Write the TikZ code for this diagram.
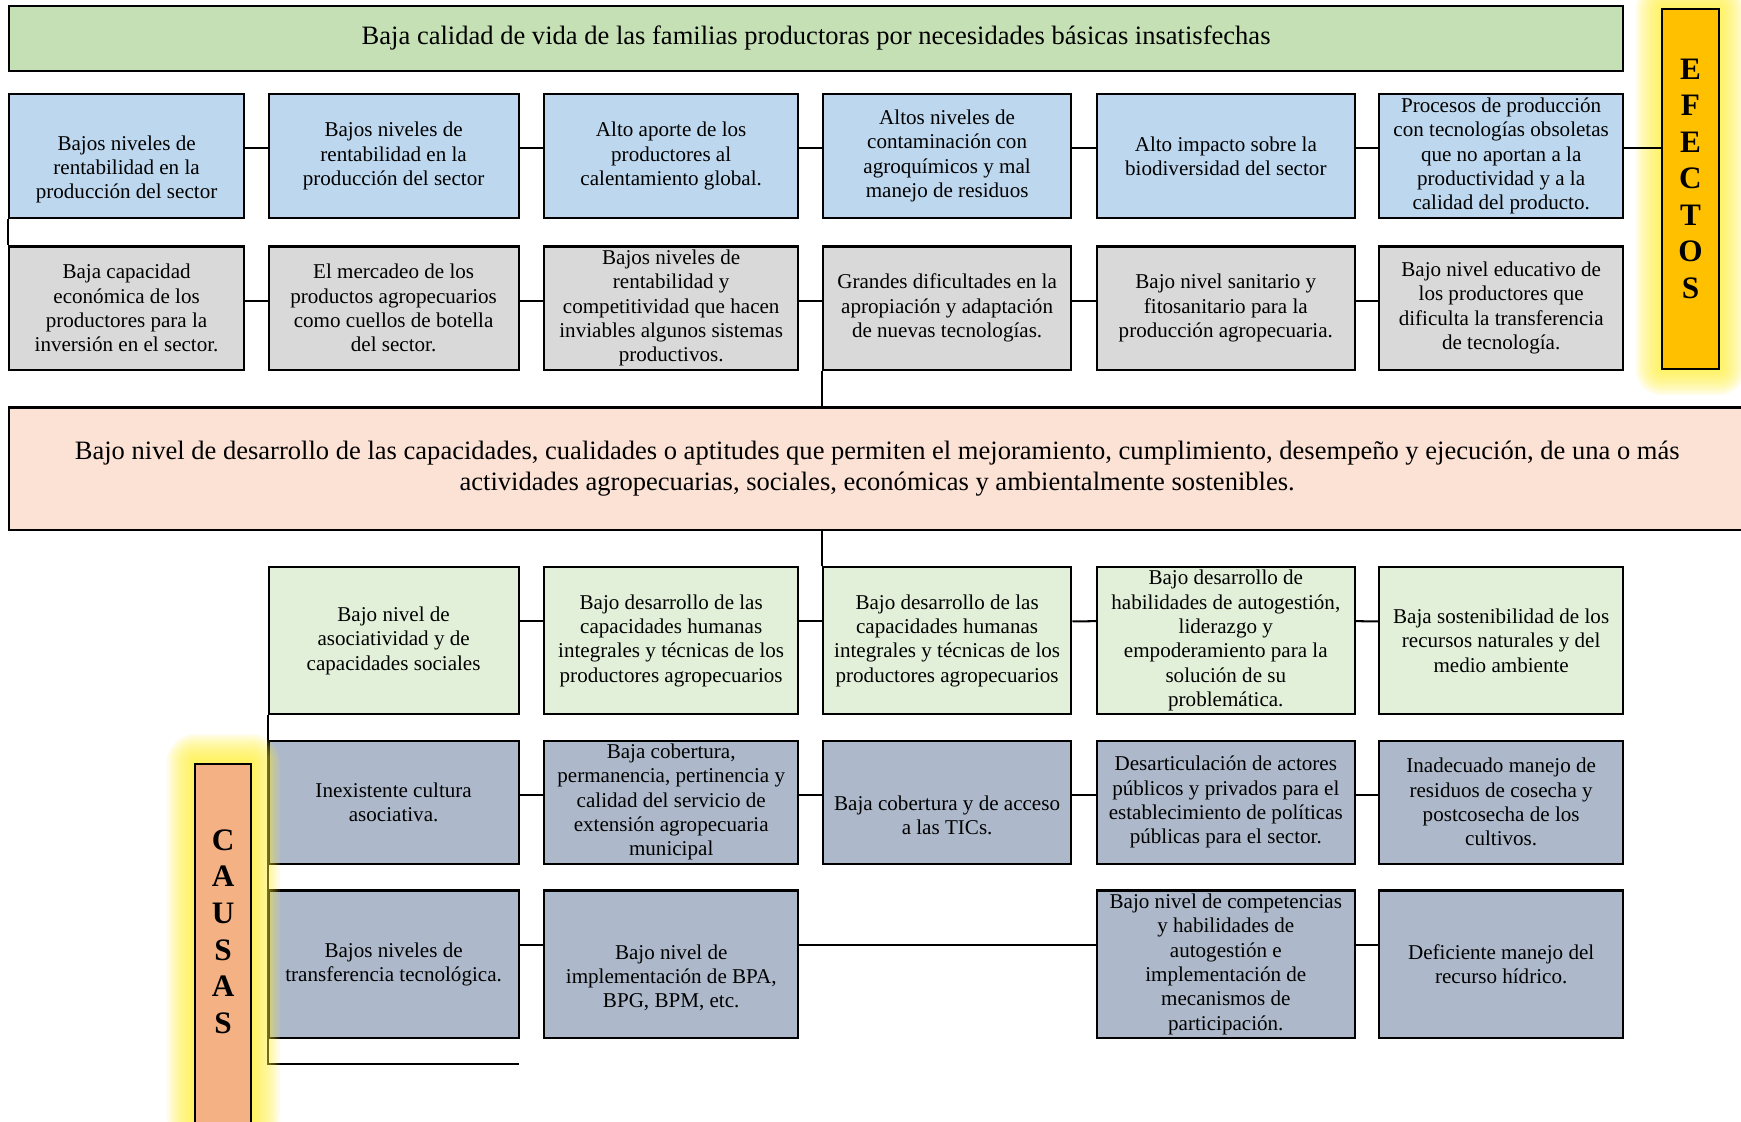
\documentclass[tikz,border=0pt]{standalone}
\usepackage{fontspec}
\setmainfont{Liberation Serif}
\usepackage{tikz}
\usetikzlibrary{calc}

\definecolor{verdetit}{HTML}{C5E0B4}
\definecolor{azulef}{HTML}{BDD7EE}
\definecolor{grisef}{HTML}{D9D9D9}
\definecolor{rosacen}{HTML}{FBE2D5}
\definecolor{verdeca}{HTML}{E2F0D9}
\definecolor{azulca}{HTML}{ADB9CA}
\definecolor{naranjaef}{HTML}{FFC000}
\definecolor{salmonca}{HTML}{F4B183}
\definecolor{brillo}{HTML}{FFEE30}

\begin{document}
\begin{tikzpicture}[x=0.025cm,y=-0.025cm,line width=1.3pt]
\tikzstyle{caja}=[draw,align=center,inner sep=2pt,font=\fontsize{13.5}{15.6}\selectfont]
\tikzstyle{grande}=[draw,align=center,font=\fontsize{17}{19.9}\selectfont]
\tikzstyle{letras}=[align=center,font=\fontsize{20}{23.4}\selectfont\bfseries]
\useasboundingbox (0,0) rectangle (1568,1010);

\node[grande,fill=verdetit,minimum width=1454*0.025cm,minimum height=59*0.025cm] (titulo) at (735,34.5) {Baja calidad de vida de las familias productoras por necesidades básicas insatisfechas};

\foreach \name/\xa/\xb/\texto in {
	ea1/8/220/{\strut\\Bajos niveles de\\rentabilidad en la\\producción del sector},
	ea2/242/467/{Bajos niveles de\\rentabilidad en la\\producción del sector},
	ea3/490/719/{Alto aporte de los\\productores al\\calentamiento global.},
	ea4/741/965/{Altos niveles de\\contaminación con\\agroquímicos y mal\\manejo de residuos},
	ea5/988/1220/{Alto impacto sobre la\\biodiversidad del sector},
	ea6/1242/1462/{Procesos de producción\\con tecnologías obsoletas\\que no aportan a la\\productividad y a la\\calidad del producto.}}
	\node[caja,fill=azulef,minimum width={(\xb-\xa)*0.025cm},minimum height=111*0.025cm] (\name) at ({(\xa+\xb)/2},140.5) {\texto};

\foreach \name/\xa/\xb/\texto in {
	eb1/8/220/{Baja capacidad\\económica de los\\productores para la\\inversión en el sector.},
	eb2/242/467/{El mercadeo de los\\productos agropecuarios\\como cuellos de botella\\del sector.},
	eb3/490/719/{Bajos niveles de\\rentabilidad y\\competitividad que hacen\\inviables algunos sistemas\\productivos.},
	eb4/741/965/{Grandes dificultades en la\\apropiación y adaptación\\de nuevas tecnologías.},
	eb5/988/1220/{Bajo nivel sanitario y\\fitosanitario para la\\producción agropecuaria.},
	eb6/1242/1462/{Bajo nivel educativo de\\los productores que\\dificulta la transferencia\\de tecnología.}}
	\node[caja,fill=grisef,minimum width={(\xb-\xa)*0.025cm},minimum height=111*0.025cm] (\name) at ({(\xa+\xb)/2},277.5) {\texto};

\node[grande,fill=rosacen,minimum width=1564*0.025cm,minimum height=110*0.025cm] (centro) at (790,422) {Bajo nivel de desarrollo de las capacidades, cualidades o aptitudes que permiten el mejoramiento, cumplimiento, desempeño y ejecución, de una o más\\actividades agropecuarias, sociales, económicas y ambientalmente sostenibles.};

\foreach \name/\xa/\xb/\texto in {
	ca1/242/467/{Bajo nivel de\\asociatividad y de\\capacidades sociales},
	ca2/490/719/{Bajo desarrollo de las\\capacidades humanas\\integrales y técnicas de los\\productores agropecuarios},
	ca3/741/965/{Bajo desarrollo de las\\capacidades humanas\\integrales y técnicas de los\\productores agropecuarios},
	ca4/988/1220/{Bajo desarrollo de\\habilidades de autogestión,\\liderazgo y\\empoderamiento para la\\solución de su\\problemática.},
	ca5/1242/1462/{Baja sostenibilidad de los\\recursos naturales y del\\medio ambiente}}
	\node[caja,fill=verdeca,minimum width={(\xb-\xa)*0.025cm},minimum height=132*0.025cm] (\name) at ({(\xa+\xb)/2},577) {\texto};

\foreach \name/\xa/\xb/\texto in {
	cb1/242/467/{Inexistente cultura\\asociativa.},
	cb2/490/719/{Baja cobertura,\\permanencia, pertinencia y\\calidad del servicio de\\extensión agropecuaria\\municipal},
	cb3/741/965/{\strut\\Baja cobertura y de acceso\\a las TICs.},
	cb4/988/1220/{Desarticulación de actores\\públicos y privados para el\\establecimiento de políticas\\públicas para el sector.},
	cb5/1242/1462/{Inadecuado manejo de\\residuos de cosecha y\\postcosecha de los\\cultivos.}}
	\node[caja,fill=azulca,minimum width={(\xb-\xa)*0.025cm},minimum height=111*0.025cm] (\name) at ({(\xa+\xb)/2},722.5) {\texto};

\foreach \name/\xa/\xb/\texto in {
	cc1/242/467/{Bajos niveles de\\transferencia tecnológica.},
	cc2/490/719/{\strut\\Bajo nivel de\\implementación de BPA,\\BPG, BPM, etc.},
	cc3/988/1220/{Bajo nivel de competencias\\y habilidades de\\autogestión e\\implementación de\\mecanismos de\\participación.},
	cc4/1242/1462/{Deficiente manejo del\\recurso hídrico.}}
	\node[caja,fill=azulca,minimum width={(\xb-\xa)*0.025cm},minimum height=133*0.025cm] (\name) at ({(\xa+\xb)/2},868.5) {\texto};

\foreach \a/\b in {ea1/ea2,ea2/ea3,ea3/ea4,ea4/ea5,ea5/ea6,
	eb1/eb2,eb2/eb3,eb3/eb4,eb4/eb5,eb5/eb6,
	ca1/ca2,ca2/ca3,ca3/ca4,ca4/ca5,
	cb1/cb2,cb2/cb3,cb3/cb4,cb4/cb5,
	cc1/cc2,cc2/cc3,cc3/cc4}
	\draw ([yshift=-1.24cm]\a.north east) -- ([yshift=-1.24cm]\b.north west);

\draw (ea1.south west) -- (eb1.north west);
\draw (eb4.south west) -- (eb4.south west |- centro.north);
\draw (centro.south -| ca3.north west) -- (ca3.north west);
\coordinate (cierre) at (467,958);
\draw (ca1.south west) |- (cierre);

\foreach \i in {1,...,12}
	\fill[brillo,opacity=0.1,rounded corners=\i*0.05cm] ({1497-2*\i},{8-2*\i}) rectangle ({1548+2*\i},{332+2*\i});
\foreach \i in {1,...,13}
	\fill[brillo,opacity=0.1,rounded corners=\i*0.05cm] ({176-2*\i},{687-2*\i}) rectangle ({226+2*\i},{1030});

\node[draw,fill=naranjaef,minimum width=51*0.025cm,minimum height=324*0.025cm] (efectos) at (1522.5,170) {};
\node[letras] (letef) at (1522.5,161) {E\\F\\E\\C\\T\\O\\S};
\path ([yshift=-1.24cm]ea6.north east) coordinate (ef);
\draw (ef) -- (ef -| efectos.west);

\node[draw,fill=salmonca,minimum width=50*0.025cm,minimum height=340*0.025cm,anchor=north] (causas) at (201,687) {};
\node[letras] (letca) at (201,839) {C\\A\\U\\S\\A\\S};
\end{tikzpicture}
\end{document}
